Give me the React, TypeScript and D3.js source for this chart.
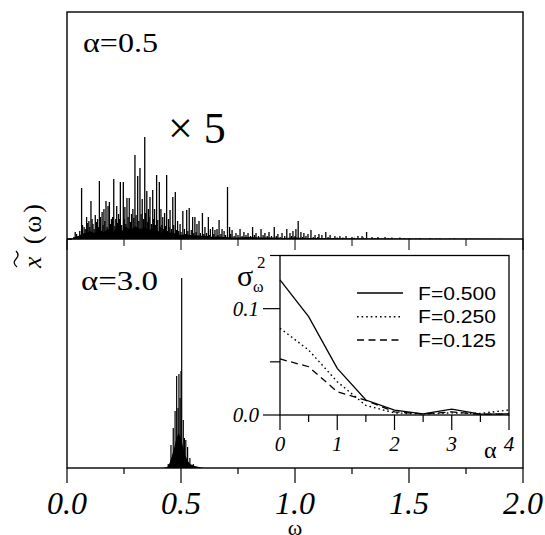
import React from "react";
import * as d3 from "d3";

// ---------- data ----------
// top panel (alpha = 0.5) spectral spikes: [omega, amplitude]
const topSpikes: [number, number][] = [
  [0.036, 0.07], [0.048, 0.03], [0.064, 0.51], [0.075, 0.12], [0.086, 0.22], [0.096, 0.18],
  [0.105, 0.38], [0.114, 0.15], [0.124, 0.24], [0.134, 0.2], [0.142, 0.58], [0.154, 0.27],
  [0.162, 0.3], [0.171, 0.38], [0.18, 0.33], [0.186, 0.37], [0.195, 0.2], [0.205, 0.6],
  [0.218, 0.33], [0.226, 0.25], [0.234, 0.57], [0.247, 0.57], [0.254, 0.32], [0.263, 0.41],
  [0.273, 0.41], [0.283, 0.25], [0.289, 0.3], [0.298, 0.84], [0.31, 0.63], [0.32, 0.71],
  [0.33, 0.4], [0.341, 1.02], [0.35, 0.48], [0.357, 0.3], [0.364, 0.42], [0.376, 0.49],
  [0.384, 0.3], [0.393, 0.64], [0.405, 0.57], [0.412, 0.3], [0.42, 0.22], [0.428, 0.26],
  [0.437, 0.64], [0.445, 0.2], [0.452, 0.29], [0.464, 0.42], [0.475, 0.47], [0.485, 0.18],
  [0.496, 0.15], [0.508, 0.28], [0.525, 0.29], [0.536, 0.31], [0.551, 0.22], [0.561, 0.22],
  [0.57, 0.15], [0.579, 0.18], [0.594, 0.26], [0.605, 0.12], [0.62, 0.22], [0.629, 0.1],
  [0.639, 0.12], [0.649, 0.09], [0.658, 0.1], [0.667, 0.19], [0.68, 0.1], [0.689, 0.08],
  [0.704, 0.52], [0.713, 0.12], [0.724, 0.09], [0.741, 0.06], [0.759, 0.1], [0.776, 0.07],
  [0.794, 0.06], [0.814, 0.12], [0.829, 0.06], [0.851, 0.1], [0.868, 0.06], [0.886, 0.07],
  [0.909, 0.12], [0.925, 0.05], [0.943, 0.06], [0.964, 0.1], [0.978, 0.06], [0.991, 0.08],
  [1.004, 0.1], [1.014, 0.18], [1.026, 0.07], [1.039, 0.06], [1.057, 0.05], [1.07, 0.09],
  [1.088, 0.04], [1.105, 0.05], [1.118, 0.04], [1.135, 0.07], [1.154, 0.04], [1.175, 0.03],
  [1.197, 0.03], [1.224, 0.03], [1.25, 0.02], [1.276, 0.03], [1.294, 0.03], [1.314, 0.07],
  [1.338, 0.02], [1.364, 0.02], [1.395, 0.02], [1.425, 0.015], [1.46, 0.015], [1.504, 0.01],
  [1.548, 0.01], [1.592, 0.01], [1.636, 0.008], [1.7, 0.008], [1.77, 0.005],
];
// small spikes filling the dense base of the alpha = 0.5 spectrum: [omega, amplitude]
const topMinor: [number, number][] = [
  [0.03, 0.02], [0.042, 0.05], [0.056, 0.08], [0.068, 0.14], [0.08, 0.1], [0.091, 0.16],
  [0.1, 0.12], [0.11, 0.2], [0.119, 0.1], [0.129, 0.17], [0.138, 0.12], [0.147, 0.22],
  [0.158, 0.14], [0.166, 0.18], [0.176, 0.12], [0.19, 0.15], [0.2, 0.22], [0.21, 0.13],
  [0.214, 0.2], [0.222, 0.16], [0.23, 0.2], [0.24, 0.14], [0.251, 0.2], [0.258, 0.15],
  [0.268, 0.22], [0.278, 0.17], [0.293, 0.21], [0.303, 0.24], [0.315, 0.18], [0.325, 0.25],
  [0.336, 0.2], [0.345, 0.26], [0.354, 0.17], [0.36, 0.22], [0.37, 0.15], [0.38, 0.2],
  [0.388, 0.14], [0.398, 0.19], [0.409, 0.12], [0.416, 0.14], [0.424, 0.1], [0.432, 0.13],
  [0.441, 0.08], [0.448, 0.12], [0.458, 0.1], [0.468, 0.14], [0.48, 0.09], [0.49, 0.08],
  [0.5, 0.07], [0.515, 0.1], [0.53, 0.08], [0.545, 0.09], [0.556, 0.06], [0.566, 0.07],
  [0.585, 0.06], [0.6, 0.05], [0.612, 0.06], [0.625, 0.04], [0.644, 0.05], [0.662, 0.04],
  [0.675, 0.05], [0.695, 0.04], [0.718, 0.05], [0.733, 0.03], [0.75, 0.04], [0.768, 0.03],
  [0.785, 0.04], [0.805, 0.03], [0.822, 0.04], [0.84, 0.03], [0.86, 0.04], [0.878, 0.03],
  [0.897, 0.03], [0.918, 0.03], [0.935, 0.02], [0.955, 0.03], [0.985, 0.03], [1.0, 0.03],
  [1.033, 0.02], [1.048, 0.03], [1.08, 0.02], [1.1, 0.02], [1.145, 0.02], [1.185, 0.015],
  [1.21, 0.015], [1.26, 0.012], [1.3, 0.015], [1.35, 0.01], [1.41, 0.01], [1.48, 0.008],
  [1.53, 0.006], [1.62, 0.005], [1.68, 0.004], [1.8, 0.003], [1.9, 0.002],
];
// dense background of the alpha = 0.5 spectrum: [omega, amplitude]
const topFloor: [number, number][] = [
  [0.02, 0.0], [0.035, 0.02], [0.05, 0.03], [0.065, 0.05], [0.08, 0.06], [0.1, 0.08],
  [0.12, 0.06], [0.14, 0.1], [0.16, 0.07], [0.18, 0.1], [0.2, 0.07], [0.22, 0.11],
  [0.24, 0.08], [0.26, 0.12], [0.28, 0.09], [0.3, 0.13], [0.32, 0.1], [0.34, 0.12],
  [0.36, 0.09], [0.38, 0.11], [0.4, 0.08], [0.42, 0.06], [0.44, 0.05], [0.46, 0.07],
  [0.48, 0.05], [0.5, 0.04], [0.52, 0.05], [0.54, 0.04], [0.56, 0.035], [0.58, 0.035],
  [0.6, 0.03], [0.62, 0.03], [0.64, 0.02], [0.66, 0.025], [0.68, 0.02], [0.7, 0.02],
  [0.72, 0.015], [0.75, 0.015], [0.8, 0.02], [0.85, 0.015], [0.9, 0.015], [0.95, 0.01],
  [1.0, 0.015], [1.05, 0.01], [1.1, 0.01], [1.2, 0.008], [1.3, 0.006], [1.4, 0.004],
  [1.6, 0.003], [1.8, 0.002], [2.0, 0.0],
];
// bottom panel (alpha = 3.0) spikes
const botSpikes: [number, number][] = [
  [0.444, 0.04], [0.456, 0.23], [0.466, 0.4], [0.474, 0.57], [0.481, 0.92], [0.487, 0.6],
  [0.491, 0.94], [0.496, 0.7], [0.5, 0.97], [0.503, 1.9], [0.51, 0.48], [0.515, 0.3],
  [0.521, 0.28], [0.529, 0.21], [0.539, 0.1], [0.554, 0.04],
];
const botFloor: [number, number][] = [
  [0.42, 0.0], [0.44, 0.01], [0.45, 0.05], [0.46, 0.12], [0.47, 0.2], [0.48, 0.3],
  [0.49, 0.35], [0.5, 0.3], [0.51, 0.2], [0.52, 0.12], [0.53, 0.07], [0.54, 0.04],
  [0.56, 0.02], [0.58, 0.01], [0.6, 0.0],
];
// inset: sigma_omega^2 vs alpha
const alphaVals = [0, 0.5, 1, 1.5, 2, 2.5, 3, 3.5, 4];
const sigF500 = [0.127, 0.0925, 0.0439, 0.0141, 0.0045, 0.001, 0.0055, 0.0008, 0.001];
const sigF250 = [0.0816, 0.0611, 0.0313, 0.009, 0.002, 0.001, 0.002, 0.0015, 0.0047];
const sigF125 = [0.0527, 0.0454, 0.0219, 0.0138, 0.003, 0.001, 0.003, 0.0005, 0.001];
const legendLabels = ["F=0.500", "F=0.250", "F=0.125"];
const omegaTicks = [0, 0.5, 1.0, 1.5, 2.0];
const omegaTickLabels = ["0.0", "0.5", "1.0", "1.5", "2.0"];
const omegaMinor = [0.25, 0.75, 1.25, 1.75];
const alphaTicks = [0, 1, 2, 3, 4];
const alphaMinor = [0.5, 1.5, 2.5, 3.5];
const sigTicks = [0, 0.1];
const sigTickLabels = ["0.0", "0.1"];
const sigMinor = [0.05, 0.15];

// ---------- layout ----------
const W = 545, H = 535;
const L = 67, R = 523, T = 12, MID = 239, B = 468;
const SERIF = "'Liberation Serif','Times New Roman',Times,serif";
const SANS = "'Liberation Sans',Arial,sans-serif";

export default function App() {
  const x = d3.scaleLinear().domain([0, 2]).range([L, R]);
  const yTop = d3.scaleLinear().domain([0, 2.27]).range([MID, T]);
  const yBot = d3.scaleLinear().domain([0, 2.29]).range([B, MID]);
  const xi = d3.scaleLinear().domain([0, 4]).range([280, 509]);
  const yi = d3.scaleLinear().domain([0, 0.15]).range([415, 255.5]);

  const topArea = d3.area<[number, number]>().x(d => x(d[0])).y0(yTop(0)).y1(d => yTop(d[1]));
  const botArea = d3.area<[number, number]>().x(d => x(d[0])).y0(yBot(0)).y1(d => yBot(d[1]));
  const inLine = d3.line<number>().x((_, i) => xi(alphaVals[i])).y(d => yi(d));
  const series = [
    { vals: sigF500, dash: "none", w: 1.3 },
    { vals: sigF250, dash: "1.6,3", w: 1.4 },
    { vals: sigF125, dash: "7,4.5", w: 1.3 },
  ];
  const legY = [293, 316.7, 340];
  const serifStyle = { fontFamily: SERIF } as React.CSSProperties;

  return (
    <svg width={W} height={H} style={{ position: "absolute", left: 0, top: 0, background: "#fff" }}>
      <rect x={0} y={0} width={W} height={H} fill="#fff" />
      <defs>
        <clipPath id="ctop"><rect x={L} y={T} width={R - L} height={MID - T} /></clipPath>
        <clipPath id="cbot"><rect x={L} y={MID} width={R - L} height={B - MID} /></clipPath>
      </defs>

      {/* top spectrum */}
      <g clipPath="url(#ctop)">
        <path d={topArea(topFloor) || ""} fill="#000" />
        {topMinor.map((d, i) => (
          <line key={"m" + i} x1={x(d[0])} x2={x(d[0])} y1={yTop(0)} y2={yTop(d[1])} stroke="#000" strokeWidth={1.3} />
        ))}
        {topSpikes.map((d, i) => (
          <line key={i} x1={x(d[0])} x2={x(d[0])} y1={yTop(0)} y2={yTop(d[1])} stroke="#000" strokeWidth={1.3} />
        ))}
      </g>
      {/* bottom spectrum */}
      <g clipPath="url(#cbot)">
        <path d={botArea(botFloor) || ""} fill="#000" />
        {botSpikes.map((d, i) => (
          <line key={i} x1={x(d[0])} x2={x(d[0])} y1={yBot(0)} y2={yBot(d[1])} stroke="#000" strokeWidth={1.2} />
        ))}
      </g>

      {/* frame */}
      <rect x={L} y={T} width={R - L} height={B - T} fill="none" stroke="#000" strokeWidth={1.4} />
      <line x1={L} x2={R} y1={MID} y2={MID} stroke="#000" strokeWidth={1.4} />
      <line x1={L} x2={L + 5} y1={MID} y2={MID} stroke="#000" strokeWidth={1.4} />

      {/* divider ticks */}
      {omegaTicks.concat(omegaMinor).map((v, i) => (
        <line key={"dt" + i} x1={x(v)} x2={x(v)} y1={MID} y2={MID + (omegaTicks.includes(v) ? 11 : 7)} stroke="#000" strokeWidth={1} />
      ))}
      {/* bottom axis */}
      {omegaTicks.map((v, i) => (
        <g key={"bt" + i}>
          <line x1={x(v)} x2={x(v)} y1={B} y2={B + 15} stroke="#000" strokeWidth={1.2} />
          <text x={x(v)} y={514} textAnchor="middle" style={serifStyle} fontStyle="italic" fontSize={32}>{omegaTickLabels[i]}</text>
        </g>
      ))}
      {omegaMinor.map((v, i) => (
        <line key={"bm" + i} x1={x(v)} x2={x(v)} y1={B} y2={B + 6} stroke="#000" strokeWidth={1.2} />
      ))}
      <text x={x(1)} y={535} textAnchor="middle" style={serifStyle} fontSize={22}>ω</text>

      {/* y label */}
      <g transform="translate(41,268) rotate(-90)">
        <text x={0} y={0} style={serifStyle} fontSize={26} textLength={64} lengthAdjust="spacing">
          <tspan fontStyle="italic">x</tspan>
          <tspan> (ω)</tspan>
        </text>
        <path d="M1,-24 Q5,-29 9,-25 T17,-25" fill="none" stroke="#000" strokeWidth={1.3} />
      </g>

      {/* panel annotations */}
      <text x={83} y={52} style={serifStyle} fontSize={28} textLength={75} lengthAdjust="spacingAndGlyphs">α=0.5</text>
      <text x={168} y={143} style={serifStyle} fontSize={44}>× 5</text>
      <text x={81} y={290} style={serifStyle} fontSize={27} textLength={77} lengthAdjust="spacingAndGlyphs">α=3.0</text>

      {/* inset */}
      <rect x={xi(0)} y={yi(0.15)} width={xi(4) - xi(0)} height={yi(0) - yi(0.15)} fill="#fff" stroke="#000" strokeWidth={1.3} />
      {series.map((s, i) => (
        <path key={"s" + i} d={inLine(s.vals) || ""} fill="none" stroke="#000" strokeWidth={s.w} strokeDasharray={s.dash} />
      ))}
      {alphaTicks.map((v, i) => (
        <g key={"at" + i}>
          <line x1={xi(v)} x2={xi(v)} y1={yi(0)} y2={yi(0) + 15} stroke="#000" strokeWidth={1.2} />
          <text x={xi(v)} y={451} textAnchor="middle" style={serifStyle} fontStyle="italic" fontSize={21}>{String(v)}</text>
        </g>
      ))}
      {alphaMinor.map((v, i) => (
        <line key={"am" + i} x1={xi(v)} x2={xi(v)} y1={yi(0)} y2={yi(0) + 7} stroke="#000" strokeWidth={1.2} />
      ))}
      <text x={484} y={458} style={serifStyle} fontSize={24}>α</text>
      {sigTicks.map((v, i) => (
        <g key={"st" + i}>
          <line x1={xi(0) - 17} x2={xi(0)} y1={yi(v)} y2={yi(v)} stroke="#000" strokeWidth={1.2} />
          <text x={259} y={yi(v) + 7} textAnchor="end" style={serifStyle} fontStyle="italic" fontSize={21}>{sigTickLabels[i]}</text>
        </g>
      ))}
      {sigMinor.map((v, i) => (
        <line key={"sm" + i} x1={xi(0) - 10} x2={xi(0)} y1={yi(v)} y2={yi(v)} stroke="#000" strokeWidth={1.2} />
      ))}
      <text x={237} y={286} style={serifStyle} fontSize={30}>σ</text>
      <text x={253} y={292} style={serifStyle} fontSize={16}>ω</text>
      <text x={257} y={268} style={serifStyle} fontSize={17}>2</text>

      {/* legend */}
      {series.map((s, i) => (
        <g key={"lg" + i}>
          <line x1={357} x2={403} y1={legY[i]} y2={legY[i]} stroke="#000" strokeWidth={s.w} strokeDasharray={s.dash} />
          <text x={418} y={legY[i] + 6.5} fontFamily={SANS} fontSize={18.5} textLength={78} lengthAdjust="spacingAndGlyphs">{legendLabels[i]}</text>
        </g>
      ))}
    </svg>
  );
}
